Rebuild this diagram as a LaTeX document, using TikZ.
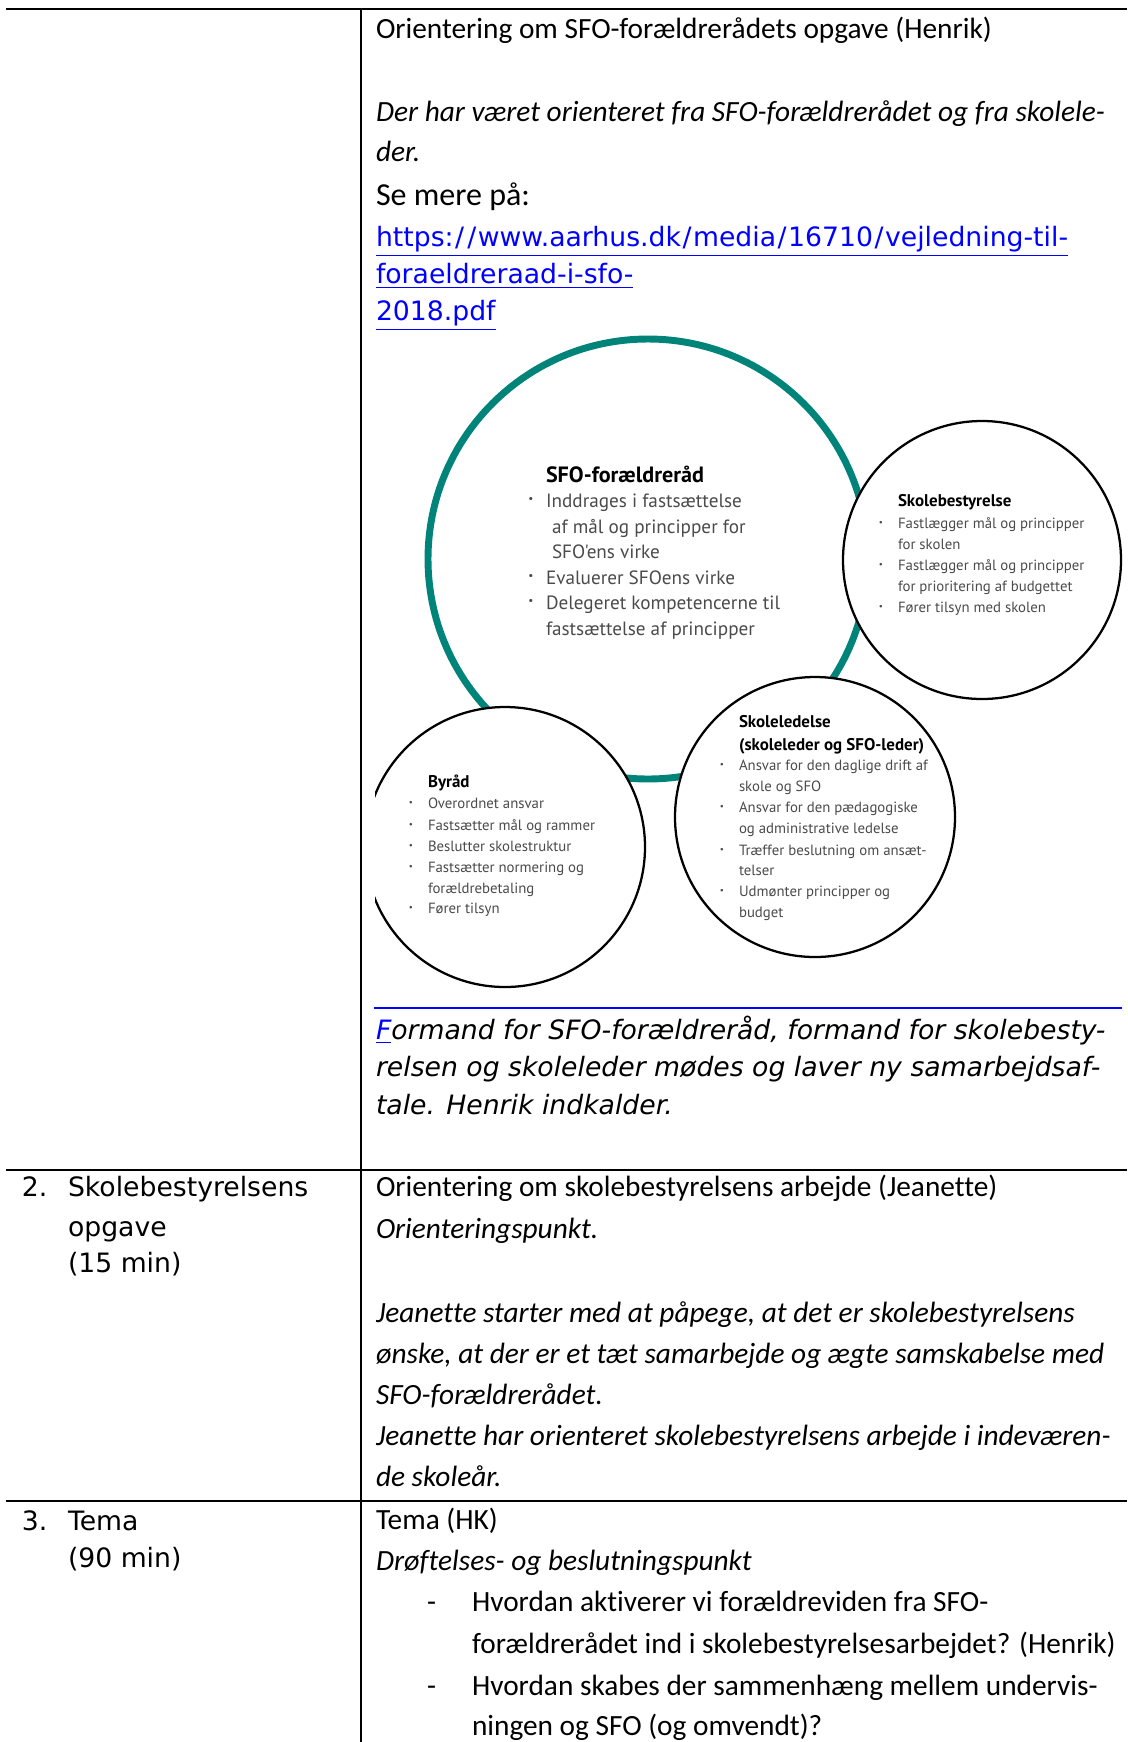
\documentclass[tikz,border=0pt]{standalone}
\usepackage{fontspec}
\setmainfont{Carlito}[Ligatures=NoCommon]
\newfontfamily\verdfam{DejaVu Sans}
\newfontfamily\circfam{PT Sans}
\definecolor{tealring}{RGB}{0,132,122}
\definecolor{circtext}{RGB}{75,75,75}
\definecolor{linkblue}{RGB}{0,0,255}
\newcommand{\wsl}{\kern0.58pt/\kern0.58pt}
\begin{document}
\begin{tikzpicture}[x=0.375pt,y=-0.375pt,
  every node/.style={inner sep=0pt, outer sep=0pt, anchor=base west},
  cal/.style={font=\fontsize{11}{13}\selectfont},
  calit/.style={font=\fontsize{11}{13}\selectfont\itshape},
  calbig/.style={font=\fontsize{12}{14}\selectfont},
  verd/.style={font=\verdfam\fontsize{10}{12}\selectfont},
  verdit/.style={font=\verdfam\itshape\fontsize{10}{12}\selectfont},
  linktext/.style={verd, text=linkblue},
  ctA/.style={font=\circfam\fontsize{7.2}{9}\selectfont, text=circtext},
  ctAt/.style={font=\circfam\bfseries\fontsize{8.3}{10}\selectfont, text=black},
  ctB/.style={font=\circfam\fontsize{5.55}{7}\selectfont, text=circtext},
  ctBt/.style={font=\circfam\bfseries\fontsize{6.35}{8}\selectfont, text=black},
  bulA/.style={font=\circfam\fontsize{4.2}{5}\selectfont, text=circtext, anchor=center},
  bulB/.style={font=\circfam\fontsize{3.4}{4}\selectfont, text=circtext, anchor=center},
  tabrule/.style={line width=0.8pt},
  colrule/.style={line width=0.6pt},
  ring/.style={draw=black, line width=0.85pt, fill=white},
]
\useasboundingbox (0,0) rectangle (1127,1742);
\fill[white] (0,0) rectangle (1127,1742);

% table rules
\draw[tabrule] (6,9) -- (1127,9);
\draw[tabrule] (6,1170) -- (1127,1170);
\draw[tabrule] (6,1501) -- (1127,1501);
\draw[colrule] (361,9) -- (361,1742);

% row 1 text
\node[cal] (r1a) at (376,38) {Orientering om SFO-forældrerådets opgave (Henrik)};
\node[calit] (r1b) at (376,121) {Der har været orienteret fra SFO-forældrerådet og fra skolele-};
\node[calit] (r1c) at (376,161) {der.};
\node[calbig] (r1d) at (376,205) {Se mere på:};
\node[linktext] (r1e) at (376,246) {\underline{https:\wsl\wsl www.aarhus.dk\wsl media\wsl 16710\wsl vejledning-til-}};
\node[linktext] (r1f) at (376,283) {\underline{foraeldreraad-i-sfo-}};
\node[linktext] (r1g) at (376,320) {\underline{2018.pdf}};

% diagram
\begin{scope}
\clip (375,300) rectangle (1127,1000);
\draw[tealring, line width=2.6pt] (648,559) circle[radius=220];
\draw[ring] (982,560) circle[radius=139];
\draw[ring] (505,847) circle[radius=140];
\draw[ring] (815,817) circle[radius=140];
\end{scope}

% SFO-foraeldreraad
\node[ctAt] (sfoT) at (546,482) {SFO-forældreråd};
\node[bulA] (sfoB1) at (531,500) {•};
\node[ctA] (sfo1) at (546,507) {Inddrages i fastsættelse};
\node[ctA] (sfo2) at (552,533) {af mål og principper for};
\node[ctA] (sfo3) at (552,558) {SFO'ens virke};
\node[bulA] (sfoB2) at (531,577) {•};
\node[ctA] (sfo4) at (546,584) {Evaluerer SFOens virke};
\node[bulA] (sfoB3) at (531,602) {•};
\node[ctA] (sfo5) at (546,609) {Delegeret kompetencerne til};
\node[ctA] (sfo6) at (546,635) {fastsættelse af principper};

% Skolebestyrelse
\node[ctBt] (sbT) at (898,506) {Skolebestyrelse};
\node[bulB] (sbB1) at (881,523) {•};
\node[ctB] (sb1) at (898,528) {Fastlægger mål og principper};
\node[ctB] (sb2) at (898,549) {for skolen};
\node[bulB] (sbB2) at (881,565) {•};
\node[ctB] (sb3) at (898,570) {Fastlægger mål og principper};
\node[ctB] (sb4) at (898,591) {for prioritering af budgettet};
\node[bulB] (sbB3) at (881,607) {•};
\node[ctB] (sb5) at (898,612) {Fører tilsyn med skolen};

% Byraad
\node[ctBt] (byT) at (428,787) {Byråd};
\node[bulB] (byB1) at (411,803) {•};
\node[ctB] (by1) at (428,808) {Overordnet ansvar};
\node[bulB] (byB2) at (411,825) {•};
\node[ctB] (by2) at (428,830) {Fastsætter mål og rammer};
\node[bulB] (byB3) at (411,846) {•};
\node[ctB] (by3) at (428,851) {Beslutter skolestruktur};
\node[bulB] (byB4) at (411,867) {•};
\node[ctB] (by4) at (428,872) {Fastsætter normering og};
\node[ctB] (by5) at (428,893) {forældrebetaling};
\node[bulB] (byB5) at (411,908) {•};
\node[ctB] (by6) at (428,913) {Fører tilsyn};

% Skoleledelse
\node[ctBt] (slT1) at (739,727) {Skoleledelse};
\node[ctBt] (slT2) at (739,750) {(skoleleder og SFO-leder)};
\node[bulB] (slB1) at (722,765) {•};
\node[ctB] (sl1) at (739,770) {Ansvar for den daglige drift af};
\node[ctB] (sl2) at (739,791) {skole og SFO};
\node[bulB] (slB2) at (722,807) {•};
\node[ctB] (sl3) at (739,812) {Ansvar for den pædagogiske};
\node[ctB] (sl4) at (739,833) {og administrative ledelse};
\node[bulB] (slB3) at (722,850) {•};
\node[ctB] (sl5) at (739,855) {Træffer beslutning om ansæt-};
\node[ctB] (sl6) at (739,875) {telser};
\node[bulB] (slB4) at (722,891) {•};
\node[ctB] (sl7) at (739,896) {Udmønter principper og};
\node[ctB] (sl8) at (739,917) {budget};

% blue rule and Formand text
\draw[linkblue, line width=1.1pt] (374,1008) -- (1122,1008);
\node[verdit] (fm1) at (376,1039) {{\color{linkblue}\underline{F}}ormand for SFO-forældreråd, formand for skolebesty-};
\node[verdit] (fm2) at (376,1076) {relsen og skoleleder mødes og laver ny samarbejdsaf-};
\node[verdit] (fm3) at (376,1114) {tale. Henrik indkalder.};

% row 2
\node[verd] (l2n) at (22,1196) {2.};
\node[verd] (l2a) at (68,1196) {Skolebestyrelsens};
\node[verd] (l2b) at (68,1236) {opgave};
\node[verd] (l2c) at (68,1272) {(15 min)};
\node[cal] (r2a) at (376,1196) {Orientering om skolebestyrelsens arbejde (Jeanette)};
\node[calit] (r2b) at (376,1238) {Orienteringspunkt.};
\node[calit] (r2c) at (376,1322) {Jeanette starter med at påpege, at det er skolebestyrelsens};
\node[calit] (r2d) at (376,1363) {ønske, at der er et tæt samarbejde og ægte samskabelse med};
\node[calit] (r2e) at (376,1404) {SFO-forældrerådet.};
\node[calit] (r2f) at (376,1445) {Jeanette har orienteret skolebestyrelsens arbejde i indeværen-};
\node[calit] (r2g) at (376,1486) {de skoleår.};

% row 3
\node[verd] (l3n) at (22,1530) {3.};
\node[verd] (l3a) at (68,1530) {Tema};
\node[verd] (l3b) at (68,1567) {(90 min)};
\node[cal] (r3a) at (376,1529) {Tema (HK)};
\node[calit] (r3b) at (376,1570) {Drøftelses- og beslutningspunkt};
\node[cal] (r3d1) at (427,1611) {-};
\node[cal] (r3c) at (472,1611) {Hvordan aktiverer vi forældreviden fra SFO-};
\node[cal] (r3d) at (472,1653) {forældrerådet ind i skolebestyrelsesarbejdet? (Henrik)};
\node[cal] (r3d2) at (427,1695) {-};
\node[cal] (r3e) at (472,1695) {Hvordan skabes der sammenhæng mellem undervis-};
\node[cal] (r3f) at (472,1735) {ningen og SFO (og omvendt)?};
\end{tikzpicture}
\end{document}
